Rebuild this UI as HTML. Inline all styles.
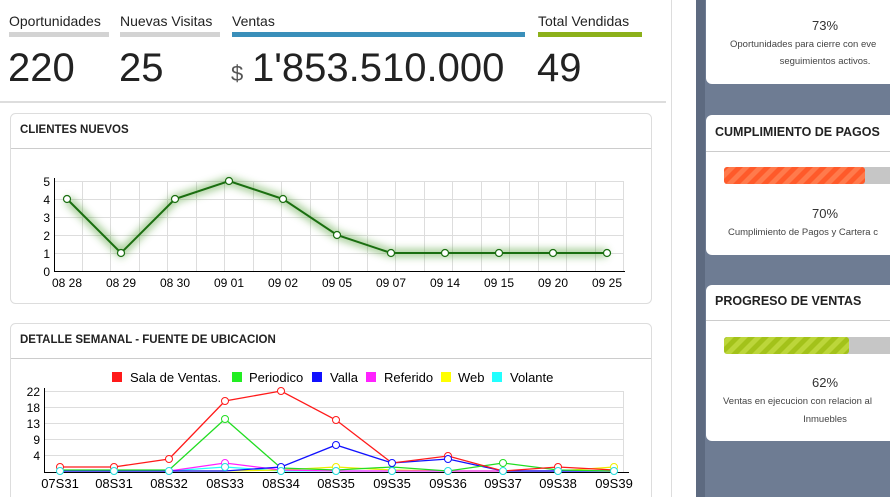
<!DOCTYPE html>
<html><head><meta charset="utf-8"><style>
body{margin:0;width:890px;height:497px;overflow:hidden;background:#fff;font-family:"Liberation Sans",Arial,sans-serif}
svg text{font-family:"Liberation Sans",Arial,sans-serif}
</style></head><body>
<svg width="890" height="497" viewBox="0 0 890 497" xmlns="http://www.w3.org/2000/svg">
<defs>
<pattern id="rs" width="14" height="17" patternUnits="userSpaceOnUse" patternTransform="skewX(-45)">
<rect width="14" height="17" fill="#ff5a2a"/><rect width="7" height="17" fill="#ff7a4c"/></pattern>
<pattern id="gs" width="14" height="17" patternUnits="userSpaceOnUse" patternTransform="skewX(-45)">
<rect width="14" height="17" fill="#a3c21a"/><rect width="7" height="17" fill="#bcd63a"/></pattern>
<filter id="glow" x="-10%" y="-30%" width="120%" height="160%"><feGaussianBlur stdDeviation="4"/></filter>
</defs>
<!-- right background -->
<rect x="671" y="0" width="1" height="497" fill="#ddd"/>
<rect x="696" y="0" width="194" height="497" fill="#6e7c93"/>
<rect x="696" y="0" width="9" height="497" fill="#5d6a80"/>
<!-- right panels -->
<rect x="706" y="-10" width="200" height="94" rx="6" fill="#fff"/>
<text x="825" y="30" font-size="13" fill="#333" text-anchor="middle">73%</text>
<text x="730" y="47" font-size="9.5" fill="#444">Oportunidades para cierre con eve</text>
<text x="825" y="64" font-size="9.5" fill="#444" text-anchor="middle">seguimientos activos.</text>

<rect x="706" y="115" width="200" height="140" rx="6" fill="#fff"/>
<text x="715" y="136" font-size="12.5" font-weight="bold" fill="#222">CUMPLIMIENTO DE PAGOS</text>
<rect x="706" y="151" width="184" height="1" fill="#ccc"/>
<rect x="724" y="167" width="170" height="17" rx="3" fill="#c6c6c6"/>
<rect x="724" y="167" width="141" height="17" rx="3" fill="url(#rs)"/>
<text x="825" y="218" font-size="13" fill="#333" text-anchor="middle">70%</text>
<text x="728" y="235" font-size="9.5" fill="#444">Cumplimiento de Pagos y Cartera c</text>

<rect x="706" y="285" width="200" height="156" rx="6" fill="#fff"/>
<text x="715" y="305" font-size="12.5" font-weight="bold" fill="#222">PROGRESO DE VENTAS</text>
<rect x="706" y="320" width="184" height="1" fill="#ccc"/>
<rect x="724" y="337" width="170" height="17" rx="3" fill="#c6c6c6"/>
<rect x="724" y="337" width="125" height="17" rx="3" fill="url(#gs)"/>
<text x="825" y="387" font-size="13" fill="#333" text-anchor="middle">62%</text>
<text x="723" y="404" font-size="9.5" fill="#444">Ventas en ejecucion con relacion al</text>
<text x="825" y="422" font-size="9.5" fill="#444" text-anchor="middle">Inmuebles</text>

<!-- stats -->
<g font-size="14" fill="#222">
<text x="9" y="26">Oportunidades</text><text x="120" y="26">Nuevas Visitas</text>
<text x="232" y="26">Ventas</text><text x="538" y="26">Total Vendidas</text></g>
<rect x="9" y="32" width="100" height="5" fill="#d3d3d3"/>
<rect x="120" y="32" width="100" height="5" fill="#d3d3d3"/>
<rect x="232" y="32" width="293" height="5" fill="#3a8fba"/>
<rect x="538" y="32" width="104" height="5" fill="#8cb01a"/>
<g font-size="40" fill="#222">
<text x="8" y="81">220</text><text x="119" y="81">25</text>
<text x="252" y="81">1'853.510.000</text><text x="537" y="81">49</text></g>
<text x="231" y="81" font-size="22" fill="#555">$</text>
<rect x="0" y="101" width="666" height="2" fill="#ddd"/>

<!-- panel 1 -->
<rect x="10.5" y="113.5" width="641" height="190" rx="5" fill="#fff" stroke="#ddd"/>
<text x="20" y="133" font-size="11.5" font-weight="bold" fill="#222">CLIENTES NUEVOS</text>
<rect x="11" y="148" width="640" height="1" fill="#ccc"/>
<g stroke="#ddd" stroke-width="1">
<line x1="55" y1="181.5" x2="624" y2="181.5"/><line x1="55" y1="199.5" x2="624" y2="199.5"/>
<line x1="55" y1="217.5" x2="624" y2="217.5"/><line x1="55" y1="235.5" x2="624" y2="235.5"/>
<line x1="55" y1="253.5" x2="624" y2="253.5"/>
<line x1="82.5" y1="181" x2="82.5" y2="271"/><line x1="110.5" y1="181" x2="110.5" y2="271"/><line x1="139.5" y1="181" x2="139.5" y2="271"/><line x1="167.5" y1="181" x2="167.5" y2="271"/><line x1="196.5" y1="181" x2="196.5" y2="271"/><line x1="224.5" y1="181" x2="224.5" y2="271"/><line x1="253.5" y1="181" x2="253.5" y2="271"/><line x1="281.5" y1="181" x2="281.5" y2="271"/><line x1="310.5" y1="181" x2="310.5" y2="271"/><line x1="338.5" y1="181" x2="338.5" y2="271"/><line x1="367.5" y1="181" x2="367.5" y2="271"/><line x1="395.5" y1="181" x2="395.5" y2="271"/><line x1="424.5" y1="181" x2="424.5" y2="271"/><line x1="452.5" y1="181" x2="452.5" y2="271"/><line x1="481.5" y1="181" x2="481.5" y2="271"/><line x1="509.5" y1="181" x2="509.5" y2="271"/><line x1="538.5" y1="181" x2="538.5" y2="271"/><line x1="566.5" y1="181" x2="566.5" y2="271"/><line x1="595.5" y1="181" x2="595.5" y2="271"/><line x1="623.5" y1="181" x2="623.5" y2="271"/>
</g>
<line x1="54.5" y1="178" x2="54.5" y2="272" stroke="#000"/>
<line x1="54" y1="271.5" x2="625" y2="271.5" stroke="#000"/>
<g font-size="12" fill="#000" text-anchor="end">
<text x="50" y="186">5</text><text x="50" y="204">4</text><text x="50" y="222">3</text><text x="50" y="240">2</text><text x="50" y="258">1</text><text x="50" y="276">0</text></g>
<polyline points="67,199 121,253 175,199 229,181 283,199 337,235 391,253 445,253 499,253 553,253 607,253" fill="none" stroke="#4a9a2a" stroke-width="8" opacity="0.5" filter="url(#glow)"/>
<polyline points="67,199 121,253 175,199 229,181 283,199 337,235 391,253 445,253 499,253 553,253 607,253" fill="none" stroke="#1a6e10" stroke-width="2"/>
<g fill="#fff" stroke="#1a6e10" stroke-width="1.2">
<circle cx="67" cy="199" r="3.5"/><circle cx="121" cy="253" r="3.5"/><circle cx="175" cy="199" r="3.5"/><circle cx="229" cy="181" r="3.5"/><circle cx="283" cy="199" r="3.5"/><circle cx="337" cy="235" r="3.5"/><circle cx="391" cy="253" r="3.5"/><circle cx="445" cy="253" r="3.5"/><circle cx="499" cy="253" r="3.5"/><circle cx="553" cy="253" r="3.5"/><circle cx="607" cy="253" r="3.5"/></g>
<g font-size="12" fill="#000" text-anchor="middle">
<text x="67" y="287">08 28</text><text x="121" y="287">08 29</text><text x="175" y="287">08 30</text><text x="229" y="287">09 01</text><text x="283" y="287">09 02</text><text x="337" y="287">09 05</text><text x="391" y="287">09 07</text><text x="445" y="287">09 14</text><text x="499" y="287">09 15</text><text x="553" y="287">09 20</text><text x="607" y="287">09 25</text></g>

<!-- panel 2 -->
<rect x="10.5" y="323.5" width="641" height="190" rx="5" fill="#fff" stroke="#ddd"/>
<text x="20" y="343" font-size="11.5" font-weight="bold" fill="#222">DETALLE SEMANAL - FUENTE DE UBICACION</text>
<rect x="11" y="358" width="640" height="1" fill="#ccc"/>
<g font-size="13" fill="#000">
<rect x="112" y="372" width="10" height="10" fill="#ff1a1a"/><text x="130" y="382">Sala de Ventas.</text>
<rect x="232" y="372" width="10" height="10" fill="#22ee22"/><text x="249" y="382">Periodico</text>
<rect x="312" y="372" width="10" height="10" fill="#1111ff"/><text x="330" y="382">Valla</text>
<rect x="366" y="372" width="10" height="10" fill="#ff22ff"/><text x="384" y="382">Referido</text>
<rect x="441" y="372" width="10" height="10" fill="#ffff00"/><text x="458" y="382">Web</text>
<rect x="492" y="372" width="10" height="10" fill="#22ffff"/><text x="510" y="382">Volante</text></g>
<g stroke="#ddd"><line x1="45" y1="391.5" x2="624" y2="391.5"/><line x1="45" y1="407.5" x2="624" y2="407.5"/><line x1="45" y1="423.5" x2="624" y2="423.5"/><line x1="45" y1="439.5" x2="624" y2="439.5"/><line x1="45" y1="455.5" x2="624" y2="455.5"/><line x1="623.5" y1="391" x2="623.5" y2="472"/></g>
<line x1="44.5" y1="388" x2="44.5" y2="473" stroke="#000"/>
<line x1="44" y1="472.5" x2="629" y2="472.5" stroke="#000"/>
<g font-size="12" fill="#000" text-anchor="end">
<text x="40" y="396">22</text><text x="40" y="412">18</text><text x="40" y="428">13</text><text x="40" y="444">9</text><text x="40" y="460">4</text></g>
<g fill="none" stroke-width="1.3">
<polyline stroke="#22ffff" points="60,471 114,471 169,471 225,467 281,471 336,471 392,471 448,471 503,471 558,471 614,471"/>
<polyline stroke="#eeee00" points="60,471 114,471 169,471 225,471 281,470 336,467 392,470 448,471 503,471 558,471 614,467"/>
<polyline stroke="#ff22ff" points="60,471 114,471 169,471 225,463 281,470 336,471 392,471 448,471 503,471 558,471 614,471"/>
<polyline stroke="#1111ff" points="60,471 114,471 169,471 225,471 281,467 336,445 392,463 448,459 503,471 558,471 614,471"/>
<polyline stroke="#22dd22" points="60,470 114,470 169,470 225,419 281,468 336,470 392,467 448,471 503,463 558,470 614,471"/>
<polyline stroke="#ff1a1a" points="60,467 114,467 169,459 225,401 281,391 336,420 392,463 448,456 503,471 558,467 614,470"/>
</g>
<g fill="#fff" stroke-width="1">
<g stroke="#ff1a1a"><circle cx="60" cy="467" r="3.5"/><circle cx="114" cy="467" r="3.5"/><circle cx="169" cy="459" r="3.5"/><circle cx="225" cy="401" r="3.5"/><circle cx="281" cy="391" r="3.5"/><circle cx="336" cy="420" r="3.5"/><circle cx="448" cy="456" r="3.5"/><circle cx="558" cy="467" r="3.5"/></g>
<g stroke="#22dd22"><circle cx="225" cy="419" r="3.5"/><circle cx="503" cy="463" r="3.5"/></g>
<g stroke="#1111ff"><circle cx="336" cy="445" r="3.5"/><circle cx="392" cy="463" r="3.5"/><circle cx="448" cy="459" r="3.5"/><circle cx="281" cy="467" r="3.5"/></g>
<g stroke="#ff22ff"><circle cx="225" cy="463" r="3.5"/></g>
<g stroke="#eeee00"><circle cx="336" cy="467" r="3.5"/><circle cx="614" cy="467" r="3.5"/></g>
<g stroke="#22dddd"><circle cx="60" cy="471" r="3.5"/><circle cx="114" cy="471" r="3.5"/><circle cx="169" cy="471" r="3.5"/><circle cx="225" cy="467" r="3.5"/><circle cx="281" cy="471" r="3.5"/><circle cx="336" cy="471" r="3.5"/><circle cx="392" cy="471" r="3.5"/><circle cx="448" cy="471" r="3.5"/><circle cx="503" cy="471" r="3.5"/><circle cx="558" cy="471" r="3.5"/><circle cx="614" cy="471" r="3.5"/></g>
</g>
<g font-size="13" fill="#000" text-anchor="middle">
<text x="60" y="488">07S31</text><text x="114" y="488">08S31</text><text x="169" y="488">08S32</text><text x="225" y="488">08S33</text><text x="281" y="488">08S34</text><text x="336" y="488">08S35</text><text x="392" y="488">09S35</text><text x="448" y="488">09S36</text><text x="503" y="488">09S37</text><text x="558" y="488">09S38</text><text x="614" y="488">09S39</text></g>
</svg>
</body></html>
